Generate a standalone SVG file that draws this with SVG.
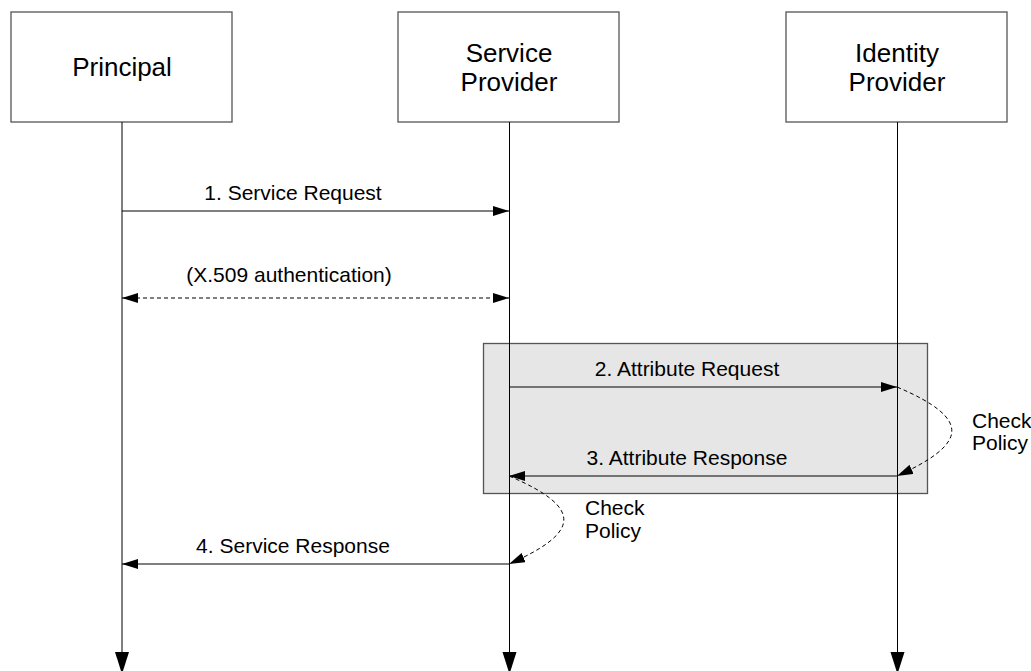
<svg xmlns="http://www.w3.org/2000/svg" width="1031" height="671" viewBox="0 0 1031 671">
<style>
.box{fill:#fff;stroke:#555;stroke-width:1.3}
.life{stroke:#000;stroke-width:1;fill:none}
.msg{stroke:#000;stroke-width:1;fill:none}
.dash{stroke:#000;stroke-width:1;fill:none;stroke-dasharray:4 3}
.t{font-family:"Liberation Sans",Arial,sans-serif;fill:#000}
.big{font-size:26px;text-anchor:middle}
.lbl{font-size:21px;text-anchor:middle}
.note{font-size:21px}
</style>
<defs>
<marker id="ah" markerUnits="userSpaceOnUse" markerWidth="16" markerHeight="10" refX="16" refY="5" orient="auto-start-reverse">
<path d="M0,0 L16,5 L0,10 z" fill="#000"/>
</marker>
</defs>
<rect x="483.5" y="343.5" width="444" height="150" fill="#e6e6e6" stroke="#555" stroke-width="1.3"/>
<g id="principal">
<rect class="box" x="11" y="12" width="221" height="110"/>
<text class="t big" x="122" y="76">Principal</text>
</g>
<g id="service-provider">
<rect class="box" x="398" y="12" width="221" height="110"/>
<text class="t big" x="509" y="62">Service</text>
<text class="t big" x="509" y="91">Provider</text>
</g>
<g id="identity-provider">
<rect class="box" x="786" y="12" width="221" height="110"/>
<text class="t big" x="897" y="62">Identity</text>
<text class="t big" x="897" y="91">Provider</text>
</g>
<g id="connectors">
<line class="life" x1="122" y1="122" x2="122" y2="655" stroke="#444"/>
<line class="life" x1="509.5" y1="122" x2="509.5" y2="655"/>
<line class="life" x1="897.5" y1="122" x2="897.5" y2="655"/>
<polygon points="115,652 129,652 122,674" fill="#000"/>
<polygon points="502.5,652 516.5,652 509.5,674" fill="#000"/>
<polygon points="890.5,652 904.5,652 897.5,674" fill="#000"/>
<line class="msg" x1="122" y1="211" x2="509" y2="211" marker-end="url(#ah)"/>
<line class="dash" x1="122" y1="298" x2="509" y2="298" marker-start="url(#ah)" marker-end="url(#ah)"/>
<line class="msg" x1="509" y1="387" x2="897" y2="387" marker-end="url(#ah)"/>
<line class="msg" x1="897" y1="476" x2="509" y2="476" marker-end="url(#ah)"/>
<line class="msg" x1="509" y1="564" x2="122" y2="564" marker-end="url(#ah)"/>
<path class="dash" d="M897,387 C975,420 965,445 897,476" marker-end="url(#ah)"/>
<path class="dash" d="M509,476 C587,509 577,534 509,564" marker-end="url(#ah)"/>
</g>
<g id="labels">
<text class="t lbl" x="293" y="200">1. Service Request</text>
<text class="t lbl" x="289" y="282">(X.509 authentication)</text>
<text class="t lbl" x="687" y="376">2. Attribute Request</text>
<text class="t lbl" x="687" y="465">3. Attribute Response</text>
<text class="t lbl" x="293" y="553">4. Service Response</text>
<text class="t note" x="972" y="428">Check</text>
<text class="t note" x="972" y="450">Policy</text>
<text class="t note" x="585" y="515">Check</text>
<text class="t note" x="585" y="538">Policy</text>
</g>
</svg>
